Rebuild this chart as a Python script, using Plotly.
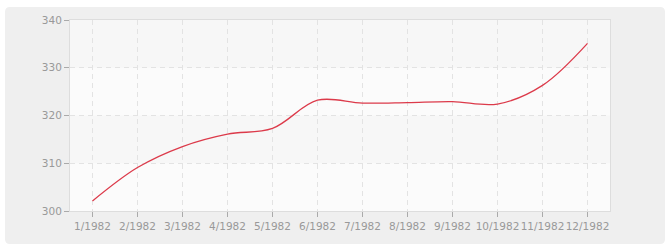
import plotly.graph_objects as go

months = ["1/1982", "2/1982", "3/1982", "4/1982", "5/1982", "6/1982",
          "7/1982", "8/1982", "9/1982", "10/1982", "11/1982", "12/1982"]
values = [302.1, 309.1, 313.5, 316.1, 317.3, 323.2, 322.6, 322.7, 322.9, 322.4, 326.3, 335.1]
y_ticks = [300, 310, 320, 330, 340]

W, H = 670, 250
ML, MR, MT, MB = 70, 60, 20, 39
pw, ph = W - ML - MR, H - MT - MB

fig = go.Figure()

fig.add_trace(go.Scatter(
    x=months, y=values, mode="lines",
    line=dict(color="#dc3a4a", width=1.3, shape="spline", smoothing=1.0),
    showlegend=False))

# rounded grey panel
rx, ry = 5 / pw, 5 / ph
x0, x1 = (5 - ML) / pw, (665 - ML) / pw
y0, y1 = (H - MB - 244) / ph, (H - MB - 7) / ph
path = (f"M {x0+rx},{y0} L {x1-rx},{y0} Q {x1},{y0} {x1},{y0+ry} "
        f"L {x1},{y1-ry} Q {x1},{y1} {x1-rx},{y1} L {x0+rx},{y1} "
        f"Q {x0},{y1} {x0},{y1-ry} L {x0},{y0+ry} Q {x0},{y0} {x0+rx},{y0} Z")
fig.add_shape(type="path", path=path, xref="paper", yref="paper",
              fillcolor="#efefef", line=dict(width=0), layer="below")

# plot area background
fig.add_shape(type="rect", xref="paper", yref="paper", x0=0, x1=1, y0=0, y1=1,
              fillcolor="#fbfbfb", line=dict(width=0), layer="below")

# alternating background bands
for i in range(len(y_ticks) - 1):
    if i % 2 == 1:
        fig.add_shape(type="rect", xref="paper", yref="y", x0=0, x1=1,
                      y0=y_ticks[i], y1=y_ticks[i + 1],
                      fillcolor="#f7f7f7", line=dict(width=0), layer="below")

font = dict(family="DejaVu Sans", size=10.5, color="#999999")
fig.update_layout(
    width=W, height=H,
    margin=dict(l=ML, r=MR, t=MT, b=MB, pad=0, autoexpand=False),
    paper_bgcolor="#ffffff", plot_bgcolor="#fbfbfb",
    font=font,
    xaxis=dict(type="category", range=[-0.5, len(months) - 0.5],
               showgrid=True, gridcolor="#e3e3e3", griddash="5px,4px", gridwidth=1,
               ticks="outside", ticklen=5, tickcolor="#aaaaaa", tickangle=0,
               showline=True, linecolor="#dddddd", linewidth=1, mirror=True,
               zeroline=False, tickfont=font, fixedrange=True, automargin=False),
    yaxis=dict(range=[y_ticks[0], y_ticks[-1]], tickvals=y_ticks,
               showgrid=True, gridcolor="#e3e3e3", griddash="5px,4px", gridwidth=1,
               ticks="outside", ticklen=5, tickcolor="#aaaaaa",
               showline=True, linecolor="#dddddd", linewidth=1, mirror=True,
               zeroline=False, tickfont=font, fixedrange=True, automargin=False),
)

fig.write_html("out.html")
